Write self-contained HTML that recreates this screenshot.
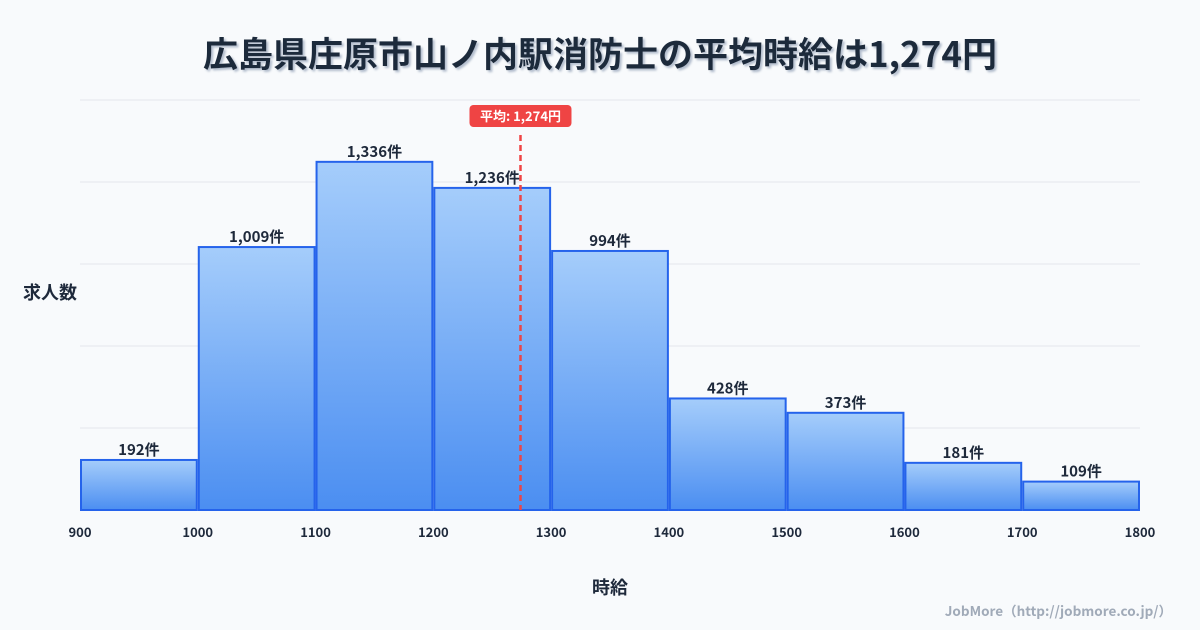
<!DOCTYPE html>
<html><head><meta charset="utf-8"><style>
body{margin:0;background:#f8fafc;}
svg{display:block;font-family:"Noto Sans CJK JP","Liberation Sans",sans-serif;}
</style></head><body>
<svg id="c" width="1200" height="630" viewBox="0 0 1200 630">
<defs><linearGradient id="g" x1="0" y1="0" x2="0" y2="1"><stop offset="0" stop-color="#a5cdfb"/><stop offset="1" stop-color="#4b8ef1"/></linearGradient>
<filter id="sh"><feDropShadow dx="2" dy="2" stdDeviation="1" flood-color="#94a3b8" flood-opacity="0.7"/></filter></defs>
<text x="600" y="67" text-anchor="middle" font-size="35" font-weight="bold" fill="#1e293b" filter="url(#sh)">広島県庄原市山ノ内駅消防士の平均時給は1,274円</text>
<g id="grid"></g><g id="bars"></g><g id="xt"></g>
<text x="50" y="299" text-anchor="middle" font-size="18" font-weight="bold" fill="#1e293b">求人数</text>
<text x="610" y="594" text-anchor="middle" font-size="18" font-weight="bold" fill="#1e293b">時給</text>
<text x="1172" y="616" text-anchor="end" font-size="13.5" font-weight="bold" fill="#a0aab8">JobMore（http://jobmore.co.jp/）</text>
<g id="avg"></g>
</svg>
<script>
const binStarts=[900,1000,1100,1200,1300,1400,1500,1600,1700];
const counts=[192,1009,1336,1236,994,428,373,181,109];
const xTicks=[900,1000,1100,1200,1300,1400,1500,1600,1700,1800];
const avgValue=1274;
const ns="http://www.w3.org/2000/svg";
const X0=80,X1=1140,Y0=510,PX_PER=0.2606;
const xs=v=>X0+(v-900)/900*(X1-X0);
const ys=v=>Y0-v*PX_PER;
function mk(t,a,p){const e=document.createElementNS(ns,t);for(const k in a)e.setAttribute(k,a[k]);p.appendChild(e);return e;}
const grid=document.getElementById('grid');
for(let i=0;i<=5;i++){const y=Y0-i*82;const l=mk('line',{x1:X0,x2:X1,y1:y,y2:y,stroke:i?'#e5e7eb':'#d1d5db','stroke-width':1},grid);

}
const bars=document.getElementById('bars');
binStarts.forEach((b,i)=>{const x=xs(b)+1,w=xs(b+100)-xs(b)-2,y=ys(counts[i]);
const r=mk('rect',{x:x,y:y,width:w,height:Y0-y,fill:'url(#g)',stroke:'#2563eb','stroke-width':2},bars);


const t=mk('text',{x:x+w/2,y:y-5,'text-anchor':'middle','font-size':15,'font-weight':'bold',fill:'#1e293b'},bars);
t.textContent=counts[i].toLocaleString('en-US')+'件';

});
const xt=document.getElementById('xt');
xTicks.forEach(v=>{const t=mk('text',{x:xs(v),y:537,'text-anchor':'middle','font-size':13,'font-weight':'bold',fill:'#1e293b'},xt);
t.textContent=v;

});
const ag=document.getElementById('avg');const ax=xs(avgValue);
const al=mk('line',{x1:ax,x2:ax,y1:135,y2:Y0,stroke:'#ef4444','stroke-width':2.5,'stroke-dasharray':'6,4'},ag);


const ar=mk('rect',{x:ax-51,y:105,width:102,height:22,rx:4,fill:'#ef4444'},ag);


const at=mk('text',{x:ax,y:121,'text-anchor':'middle','font-size':13,'font-weight':'bold',fill:'#fff'},ag);
at.textContent='平均: '+avgValue.toLocaleString('en-US')+'円';


</script>
</body></html>
